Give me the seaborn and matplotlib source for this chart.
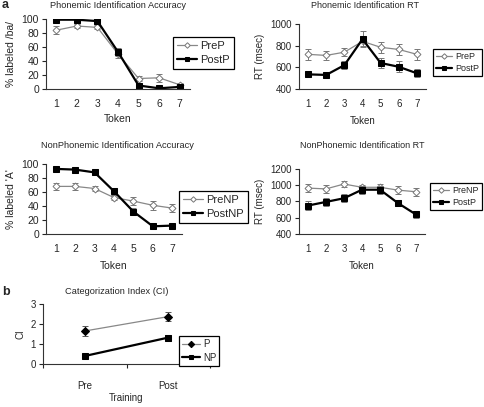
import numpy as np
import seaborn as sns
import matplotlib.pyplot as plt

tokens = [1, 2, 3, 4, 5, 6, 7]

# phonemic accuracy
acc_pre_p = [84, 90, 88, 50, 15, 16, 6]
acc_pre_p_err = [6, 3, 3, 5, 4, 6, 3]
acc_post_p = [99, 99, 97, 53, 5, 1, 3]
acc_post_p_err = [1, 1, 1, 6, 2, 1, 1]

# phonemic RT
rt_pre_p = [720, 710, 740, 840, 785, 765, 720]
rt_pre_p_err = [50, 45, 40, 45, 50, 50, 50]
rt_post_p = [535, 530, 620, 860, 640, 605, 545]
rt_post_p_err = [15, 20, 35, 75, 50, 50, 35]

# nonphonemic accuracy
acc_pre_np = [68, 68, 65, 52, 47, 41, 37]
acc_pre_np_err = [5, 5, 4, 4, 6, 6, 6]
acc_post_np = [93, 92, 88, 61, 32, 11, 12]
acc_post_np_err = [2, 2, 2, 5, 5, 1, 1]

# nonphonemic RT
rt_pre_np = [965, 955, 1015, 975, 975, 940, 920]
rt_pre_np_err = [50, 45, 40, 30, 45, 45, 50]
rt_post_np = [750, 795, 840, 945, 945, 780, 640]
rt_post_np_err = [50, 50, 50, 50, 50, 40, 40]

# categorization index
training = ["Pre", "Post"]
ci_p = [1.65, 2.37]
ci_p_err = [0.25, 0.22]
ci_np = [0.4, 1.32]
ci_np_err = [0.08, 0.15]

sns.set_style("ticks")
plt.rcParams["font.family"] = ["Liberation Sans", "DejaVu Sans"]

W, H = 484, 407
fig = plt.figure(figsize=(W / 100, H / 100), dpi=100)


def make_ax(left, right, top, bottom):
    return fig.add_axes([left / W, 1 - bottom / H, (right - left) / W, (bottom - top) / H])


def style_ax(ax, fs, xpad=7):
    sns.despine(ax=ax)
    for s in ["left", "bottom"]:
        ax.spines[s].set_linewidth(0.8)
        ax.spines[s].set_color("#333333")
    ax.tick_params(axis="y", labelsize=fs, length=3, width=0.8, pad=2)
    ax.tick_params(axis="x", labelsize=fs, length=0, pad=xpad)


def draw(ax, x, y, err, pre):
    if pre:
        kw = dict(color="#888888", linewidth=0.9, marker="D", markersize=3.5,
                  markerfacecolor="white", markeredgecolor="#777777", markeredgewidth=0.7)
    else:
        kw = dict(color="black", linewidth=1.6, marker="s", markersize=3.8,
                  markerfacecolor="black", markeredgecolor="black")
    ax.errorbar(x, y, yerr=err, fmt="none", ecolor="#777777", elinewidth=0.7, capsize=2, capthick=0.7)
    sns.lineplot(x=x, y=y, ax=ax, **kw)
    return ax.get_lines()[-1]


def legend(ax, handles, labels, x0, y0, fs):
    leg = ax.legend(handles, labels, loc="upper left", bbox_to_anchor=(x0 / W, 1 - y0 / H),
                    bbox_transform=fig.transFigure, borderaxespad=0, fontsize=fs,
                    handlelength=1.8, handletextpad=0.3, borderpad=0.35, labelspacing=0.35,
                    fancybox=False, framealpha=1, markerscale=0.8)
    leg.get_frame().set_edgecolor("black")
    leg.get_frame().set_linewidth(0.9)


# panel 1
ax1 = make_ax(46, 190, 19, 89)
h1 = draw(ax1, tokens, acc_pre_p, acc_pre_p_err, True)
h2 = draw(ax1, tokens, acc_post_p, acc_post_p_err, False)
ax1.set_xlim(0.5, 7.5)
ax1.set_ylim(0, 100)
ax1.set_yticks([0, 20, 40, 60, 80, 100])
ax1.set_xticks(tokens)
style_ax(ax1, 7.5)
ax1.set_xlabel("Token", fontsize=7.5, labelpad=4)
ax1.set_ylabel("% labeled /ba/", fontsize=7.5)
legend(ax1, [h1, h2], ["PreP", "PostP"], 173, 37, 8)

# panel 2
ax2 = make_ax(299, 426, 24, 89)
h1 = draw(ax2, tokens, rt_pre_p, rt_pre_p_err, True)
h2 = draw(ax2, tokens, rt_post_p, rt_post_p_err, False)
ax2.set_xlim(0.5, 7.5)
ax2.set_ylim(400, 1000)
ax2.set_yticks([400, 600, 800, 1000])
ax2.set_xticks(tokens)
style_ax(ax2, 7)
ax2.set_xlabel("Token", fontsize=7, labelpad=5)
ax2.set_ylabel("RT (msec)", fontsize=7)
legend(ax2, [h1, h2], ["PreP", "PostP"], 433, 49, 6.5)

# panel 3
ax3 = make_ax(46, 182, 164, 234)
h1 = draw(ax3, tokens, acc_pre_np, acc_pre_np_err, True)
h2 = draw(ax3, tokens, acc_post_np, acc_post_np_err, False)
ax3.set_xlim(0.5, 7.5)
ax3.set_ylim(0, 100)
ax3.set_yticks([0, 20, 40, 60, 80, 100])
ax3.set_xticks(tokens)
style_ax(ax3, 7.5)
ax3.set_xlabel("Token", fontsize=7.5, labelpad=5)
ax3.set_ylabel("% labeled 'A'", fontsize=7.5)
legend(ax3, [h1, h2], ["PreNP", "PostNP"], 179, 191, 8)

# panel 4
ax4 = make_ax(299, 425, 169, 234)
h1 = draw(ax4, tokens, rt_pre_np, rt_pre_np_err, True)
h2 = draw(ax4, tokens, rt_post_np, rt_post_np_err, False)
ax4.set_xlim(0.5, 7.5)
ax4.set_ylim(400, 1200)
ax4.set_yticks([400, 600, 800, 1000, 1200])
ax4.set_xticks(tokens)
style_ax(ax4, 7)
ax4.set_xlabel("Token", fontsize=7, labelpad=5)
ax4.set_ylabel("RT (msec)", fontsize=7)
legend(ax4, [h1, h2], ["PreNP", "PostP"], 430, 183, 6.5)

# panel 5
ax5 = make_ax(43, 210, 304, 364)
xi = [0, 1]
ax5.errorbar(xi, ci_p, yerr=ci_p_err, fmt="none", ecolor="#555555", elinewidth=0.7, capsize=2, capthick=0.7)
ax5.errorbar(xi, ci_np, yerr=ci_np_err, fmt="none", ecolor="#555555", elinewidth=0.7, capsize=2, capthick=0.7)
sns.lineplot(x=xi, y=ci_p, ax=ax5, color="#888888", linewidth=0.9, marker="D", markersize=4,
             markerfacecolor="black", markeredgecolor="black")
h1 = ax5.get_lines()[-1]
sns.lineplot(x=xi, y=ci_np, ax=ax5, color="black", linewidth=1.6, marker="s", markersize=4,
             markerfacecolor="black", markeredgecolor="black")
h2 = ax5.get_lines()[-1]
ax5.set_xlim(-0.5, 1.5)
ax5.set_ylim(0, 3)
ax5.set_yticks([0, 1, 2, 3])
ax5.set_xticks(xi)
ax5.set_xticklabels(training)
style_ax(ax5, 7, xpad=12)
ax5.set_xticks([-0.5, 0.5, 1.5], minor=True)
ax5.tick_params(axis="x", which="minor", length=3, width=0.8)
ax5.set_xlabel("Training", fontsize=7, labelpad=2)
ax5.set_ylabel("CI", fontsize=7)
legend(ax5, [h1, h2], ["P", "NP"], 179, 336, 7)

# titles and panel letters
fig.text(118 / W, 1 - 6 / H, "Phonemic Identification Accuracy", ha="center", va="center", fontsize=6.7)
fig.text(365 / W, 1 - 6 / H, "Phonemic Identification RT", ha="center", va="center", fontsize=6.5)
fig.text(117 / W, 1 - 145 / H, "NonPhonemic Identification Accuracy", ha="center", va="center", fontsize=6.7)
fig.text(362 / W, 1 - 145 / H, "NonPhonemic Identification RT", ha="center", va="center", fontsize=6.5)
fig.text(117 / W, 1 - 291 / H, "Categorization Index (CI)", ha="center", va="center", fontsize=6.7)
fig.text(2 / W, 1 - 5 / H, "a", ha="left", va="center", fontsize=9, fontweight="bold")
fig.text(2 / W, 1 - 292 / H, "b", ha="left", va="center", fontsize=9, fontweight="bold")

fig.savefig("out.png", dpi=100)
